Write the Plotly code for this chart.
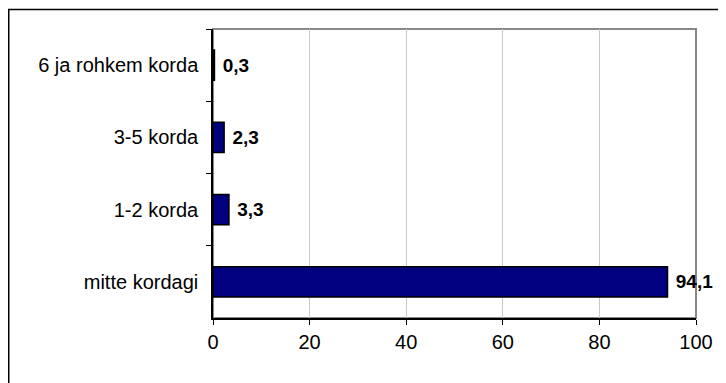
import plotly.graph_objects as go

# categories listed top to bottom as in the chart
categories = ["6 ja rohkem korda", "3-5 korda", "1-2 korda", "mitte kordagi"]
values = [0.3, 2.3, 3.3, 94.1]
x_ticks = [0, 20, 40, 60, 80, 100]

labels = [" " + f"{v:.1f}".replace(".", ",") for v in values]

# page body has an 8px margin, so the figure is a bit smaller than the window
W, H = 718, 375
L, R, T, B = 205, 30, 21, 65
pw, ph = W - L - R, H - T - B


def px_x(p):
    return (p - L) / pw


def px_y(p):
    return (H - B - p) / ph


fig = go.Figure(go.Bar(
    y=categories, x=values, orientation="h",
    width=0.42,
    marker=dict(color="#000080", line=dict(color="black", width=1.5)),
    text=labels, textposition="outside", cliponaxis=False,
    textfont=dict(family="Liberation Sans", size=19, color="black", weight="bold"),
    hoverinfo="none",
))

fig.update_layout(
    width=W, height=H,
    margin=dict(l=L, r=R, t=T, b=B),
    plot_bgcolor="white", paper_bgcolor="white",
    font=dict(family="Liberation Sans", size=20, color="black"),
    showlegend=False,
    xaxis=dict(range=[0, 100], tickvals=x_ticks, showgrid=True, gridcolor="#c8c8c8", gridwidth=1,
               zeroline=False, showline=True, linecolor="black", linewidth=1.5,
               ticks="outside", ticklen=5, tickcolor="black", tickwidth=1, fixedrange=True),
    yaxis=dict(autorange="reversed", categoryorder="array", categoryarray=categories,
               showline=True, linecolor="black", linewidth=1.5, tickson="boundaries",
               ticks="outside", ticklen=5, tickcolor="black", tickwidth=1, ticklabelstandoff=9,
               showgrid=False),
    shapes=[
        # gray frame of the plot area
        dict(type="rect", xref="paper", yref="paper", x0=0, x1=1, y0=0, y1=1,
             line=dict(color="#888888", width=2), layer="below"),
        # outer chart border
        dict(type="rect", xref="paper", yref="paper",
             x0=px_x(0.75), x1=px_x(740), y0=px_y(400), y1=px_y(1.5),
             line=dict(color="black", width=1.5)),
    ],
)

fig.write_html("out.html")
